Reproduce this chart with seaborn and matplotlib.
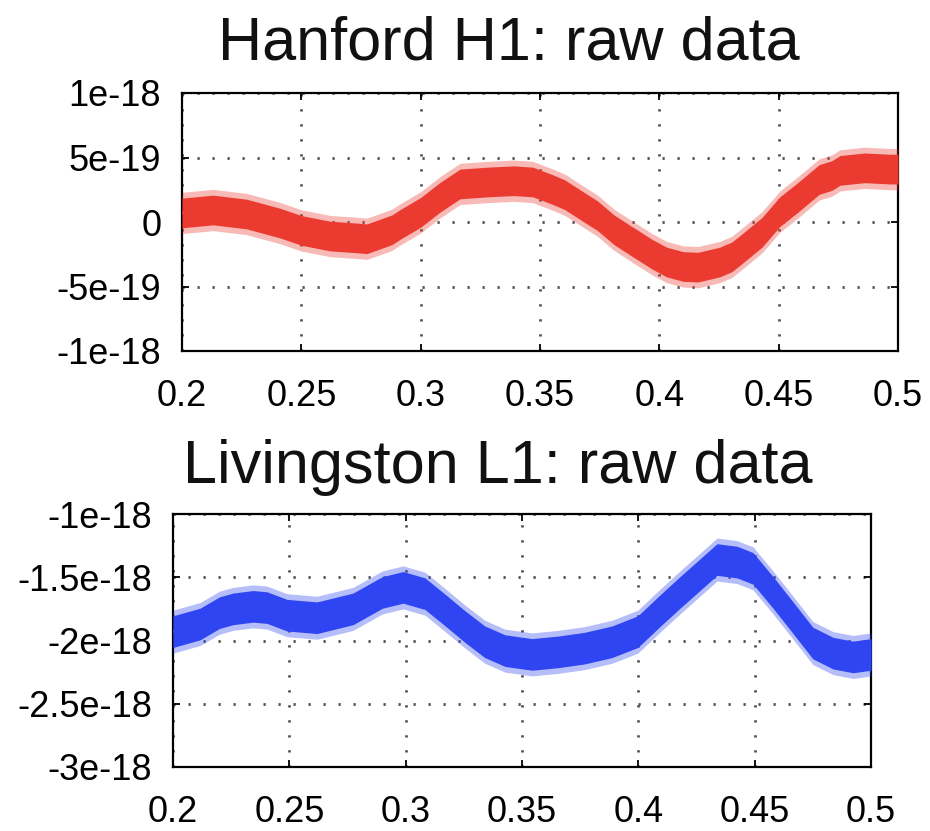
import numpy as np
import pandas as pd
import matplotlib
matplotlib.use("Agg")
import matplotlib.pyplot as plt
import seaborn as sns

# ---------------- data ----------------
# Hanford H1: time (s) and centre of the noisy strain trace (units of 1e-19)
h1_time = [0.200, 0.213, 0.227, 0.241, 0.250, 0.262, 0.2745, 0.2775, 0.288, 0.2913,
           0.300, 0.308, 0.3165, 0.328, 0.339, 0.347, 0.3555, 0.3605, 0.368, 0.374,
           0.381, 0.3885, 0.397, 0.403, 0.410, 0.4162, 0.4254, 0.4304, 0.4338, 0.443,
           0.4505, 0.458, 0.467, 0.4723, 0.4757, 0.486, 0.4966, 0.500]
h1_centre_e19 = [0.70, 0.93, 0.62, -0.08, -0.65, -1.09, -1.25, -1.30, -0.60, -0.20,
                 0.75, 1.90, 2.95, 3.10, 3.20, 3.10, 2.50, 2.10, 1.20, 0.50,
                 -0.60, -1.50, -2.50, -3.10, -3.45, -3.50, -3.10, -2.70, -2.20, -0.80,
                 0.80, 1.90, 3.30, 3.60, 4.00, 4.20, 4.10, 4.10]
h1_core_halfwidth = 1.15e-19    # dense part of the noise band
h1_spike_halfwidth = 1.6e-19    # reach of the noise spikes

# Livingston L1: time (s) and centre of the noisy strain trace (units of 1e-18)
l1_time = [0.200, 0.2116, 0.220, 0.2258, 0.2344, 0.2404, 0.249, 0.2619, 0.2774, 0.290,
           0.2989, 0.3083, 0.317, 0.3255, 0.334, 0.3427, 0.3543, 0.3655, 0.377, 0.3887,
           0.3998, 0.409, 0.4179, 0.4265, 0.4338, 0.4424, 0.4493, 0.4579, 0.4665, 0.475,
           0.4837, 0.4923, 0.500]
l1_centre_e18 = [-1.93, -1.87, -1.78, -1.75, -1.73, -1.74, -1.80, -1.82, -1.75, -1.62,
                 -1.58, -1.63, -1.76, -1.89, -2.01, -2.08, -2.11, -2.09, -2.06, -2.01,
                 -1.93, -1.77, -1.62, -1.48, -1.36, -1.38, -1.43, -1.62, -1.82, -2.02,
                 -2.10, -2.13, -2.11]
l1_core_halfwidth = 0.125e-18
l1_spike_halfwidth = 0.17e-18

x_ticks = [0.2, 0.25, 0.3, 0.35, 0.4, 0.45, 0.5]
x_ticklabels = ["0.2", "0.25", "0.3", "0.35", "0.4", "0.45", "0.5"]
h1_yticks = [-1e-18, -5e-19, 0.0, 5e-19, 1e-18]
h1_yticklabels = ["-1e-18", "-5e-19", "0", "5e-19", "1e-18"]
l1_yticks = [-3e-18, -2.5e-18, -2e-18, -1.5e-18, -1e-18]
l1_yticklabels = ["-3e-18", "-2.5e-18", "-2e-18", "-1.5e-18", "-1e-18"]

title_h1 = "Hanford H1: raw data"
title_l1 = "Livingston L1: raw data"

# ---------------- build tables ----------------
h1 = pd.DataFrame({"t": h1_time, "h": np.array(h1_centre_e19) * 1e-19})
l1 = pd.DataFrame({"t": l1_time, "h": np.array(l1_centre_e18) * 1e-18})

# ---------------- style ----------------
sns.set_theme(style="white")
plt.rcParams["font.family"] = ["Liberation Sans", "DejaVu Sans"]

RED = "#EB3A30"
BLUE = "#2F45F2"

fig = plt.figure(figsize=(9.3, 8.31), dpi=100)
ax1 = fig.add_axes([182 / 930, 1 - 351 / 831, 716 / 930, 258 / 831])
ax2 = fig.add_axes([173 / 930, 1 - 767 / 831, 698 / 930, 253 / 831])


def style_axes(ax, yticks, yticklabels, ylim):
    ax.set_xlim(0.2, 0.5)
    ax.set_ylim(*ylim)
    ax.set_xticks(x_ticks)
    ax.set_xticklabels(x_ticklabels)
    ax.set_yticks(yticks)
    ax.set_yticklabels(yticklabels)
    ax.set_xlabel("")
    ax.set_ylabel("")
    ax.grid(True, color="#505050", linestyle=(0, (0.8, 4.6)), linewidth=2.0)
    ax.set_axisbelow(True)
    for s in ax.spines.values():
        s.set_visible(True)
        s.set_color("black")
        s.set_linewidth(1.6)
    ax.tick_params(axis="both", direction="in", length=5, width=1.3,
                   colors="black", labelsize=26, top=True, right=True,
                   bottom=True, left=True)
    ax.tick_params(axis="x", pad=20)
    ax.tick_params(axis="y", pad=15)
    ax.set_facecolor("white")


for ax, df, core, spike, col, yt, ytl, yl in [
        (ax1, h1, h1_core_halfwidth, h1_spike_halfwidth, RED,
         h1_yticks, h1_yticklabels, (-1e-18, 1e-18)),
        (ax2, l1, l1_core_halfwidth, l1_spike_halfwidth, BLUE,
         l1_yticks, l1_yticklabels, (-3e-18, -1e-18))]:
    ax.fill_between(df["t"], df["h"] - spike, df["h"] + spike,
                    color=col, alpha=0.35, linewidth=0, zorder=3)
    ax.fill_between(df["t"], df["h"] - core, df["h"] + core,
                    color=col, linewidth=0, zorder=3)
    sns.lineplot(data=df, x="t", y="h", ax=ax, color=col, linewidth=2,
                 zorder=4)
    style_axes(ax, yt, ytl, yl)

fig.text(509 / 930, 1 - 60 / 831, title_h1, ha="center", va="baseline",
         fontsize=44, color="#111111")
fig.text(498 / 930, 1 - 483 / 831, title_l1, ha="center", va="baseline",
         fontsize=44, color="#111111")

fig.savefig("out.png", dpi=100, facecolor="white")
